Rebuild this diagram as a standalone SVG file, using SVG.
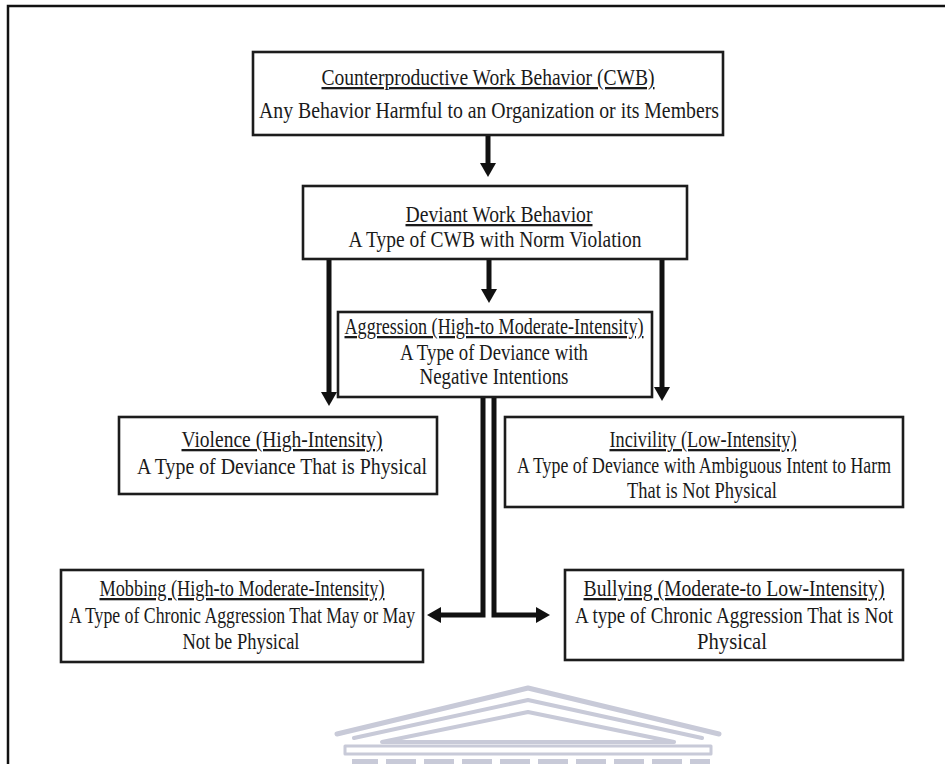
<svg xmlns="http://www.w3.org/2000/svg" width="945" height="764" viewBox="0 0 945 764">
  <style>
    .box { fill: #ffffff; stroke: #1c1c1c; stroke-width: 2.6; }
    .t { font-family: "Liberation Serif", "Times New Roman", serif; font-size: 23px; fill: #1a1a1a; text-anchor: middle; }
    .u { text-decoration: underline; }
    .wire { fill: none; stroke: #111111; stroke-width: 5; stroke-linejoin: miter; }
    .frame { fill: none; stroke: #111111; stroke-width: 2.5; }
    .crest { fill: none; stroke: #c8cad8; stroke-linejoin: round; stroke-linecap: round; }
  </style>
  <defs>
    <marker id="head" viewBox="0 0 14 16" refX="0" refY="8" markerWidth="14" markerHeight="16" markerUnits="userSpaceOnUse" orient="auto">
      <path d="M0,0 L14,8 L0,16 z" fill="#111111"/>
    </marker>
  </defs>

  <rect width="945" height="764" fill="#ffffff"/>

  <!-- page frame -->
  <path class="frame" d="M8,764 L8,6 L945,6"/>

  <!-- faint crest in the lower margin -->
  <g id="crest">
    <polyline class="crest" stroke-width="5" points="337,734 528,688 719,734"/>
    <polyline class="crest" stroke-width="4" points="354,738 528,700 702,738"/>
    <polygon class="crest" stroke-width="4" points="382,742 528,712 674,742"/>
    <rect class="crest" stroke-width="3" x="345" y="746" width="366" height="8"/>
    <g fill="#c8cad8">
      <rect x="352" y="759" width="26" height="5"/>
      <rect x="386" y="759" width="30" height="5"/>
      <rect x="424" y="759" width="30" height="5"/>
      <rect x="462" y="759" width="30" height="5"/>
      <rect x="500" y="759" width="30" height="5"/>
      <rect x="538" y="759" width="30" height="5"/>
      <rect x="576" y="759" width="30" height="5"/>
      <rect x="614" y="759" width="30" height="5"/>
      <rect x="652" y="759" width="30" height="5"/>
      <rect x="690" y="759" width="20" height="5"/>
    </g>
  </g>

  <!-- connectors -->
  <g id="connectors">
    <line class="wire" x1="488" y1="135" x2="488" y2="163" marker-end="url(#head)"/>
    <line class="wire" x1="489" y1="259" x2="489" y2="289" marker-end="url(#head)"/>
    <line class="wire" x1="329" y1="259" x2="329" y2="392" marker-end="url(#head)"/>
    <line class="wire" x1="662" y1="259" x2="662" y2="387" marker-end="url(#head)"/>
    <polyline class="wire" points="483,397 483,615 441,615" marker-end="url(#head)"/>
    <polyline class="wire" points="494,397 494,615 536,615" marker-end="url(#head)"/>
  </g>

  <g id="cwb">
    <rect class="box" x="253" y="52" width="470" height="83"/>
    <text class="t u" x="488" y="85" textLength="333" lengthAdjust="spacingAndGlyphs">Counterproductive Work Behavior (CWB)</text>
    <text class="t" x="489" y="118" textLength="460" lengthAdjust="spacingAndGlyphs">Any Behavior Harmful to an Organization or its Members</text>
  </g>

  <g id="deviant">
    <rect class="box" x="303" y="186" width="384" height="73"/>
    <text class="t u" x="499" y="222" textLength="187" lengthAdjust="spacingAndGlyphs">Deviant Work Behavior</text>
    <text class="t" x="495" y="247" textLength="293" lengthAdjust="spacingAndGlyphs">A Type of CWB with Norm Violation</text>
  </g>

  <g id="aggression">
    <rect class="box" x="338" y="312" width="314" height="85"/>
    <text class="t u" x="494" y="334" textLength="299" lengthAdjust="spacingAndGlyphs">Aggression (High-to Moderate-Intensity)</text>
    <text class="t" x="494" y="360" textLength="188" lengthAdjust="spacingAndGlyphs">A Type of Deviance with</text>
    <text class="t" x="494" y="384" textLength="149" lengthAdjust="spacingAndGlyphs">Negative Intentions</text>
  </g>

  <g id="violence">
    <rect class="box" x="119" y="417" width="318" height="77"/>
    <text class="t u" x="282" y="447" textLength="201" lengthAdjust="spacingAndGlyphs">Violence (High-Intensity)</text>
    <text class="t" x="282" y="474" textLength="290" lengthAdjust="spacingAndGlyphs">A Type of Deviance That is Physical</text>
  </g>

  <g id="incivility">
    <rect class="box" x="505" y="417" width="398" height="90"/>
    <text class="t u" x="703" y="447" textLength="187" lengthAdjust="spacingAndGlyphs">Incivility (Low-Intensity)</text>
    <text class="t" x="704" y="473" textLength="374" lengthAdjust="spacingAndGlyphs">A Type of Deviance with Ambiguous Intent to Harm</text>
    <text class="t" x="702" y="498" textLength="150" lengthAdjust="spacingAndGlyphs">That is Not Physical</text>
  </g>

  <g id="mobbing">
    <rect class="box" x="61" y="570" width="362" height="92"/>
    <text class="t u" x="242" y="596" textLength="285" lengthAdjust="spacingAndGlyphs">Mobbing (High-to Moderate-Intensity)</text>
    <text class="t" x="242" y="623" textLength="346" lengthAdjust="spacingAndGlyphs">A Type of Chronic Aggression That May or May</text>
    <text class="t" x="241" y="649" textLength="117" lengthAdjust="spacingAndGlyphs">Not be Physical</text>
  </g>

  <g id="bullying">
    <rect class="box" x="565" y="570" width="338" height="90"/>
    <text class="t u" x="734" y="596" textLength="301" lengthAdjust="spacingAndGlyphs">Bullying (Moderate-to Low-Intensity)</text>
    <text class="t" x="734" y="623" textLength="318" lengthAdjust="spacingAndGlyphs">A type of Chronic Aggression That is Not</text>
    <text class="t" x="732" y="649" textLength="70" lengthAdjust="spacingAndGlyphs">Physical</text>
  </g>
</svg>
